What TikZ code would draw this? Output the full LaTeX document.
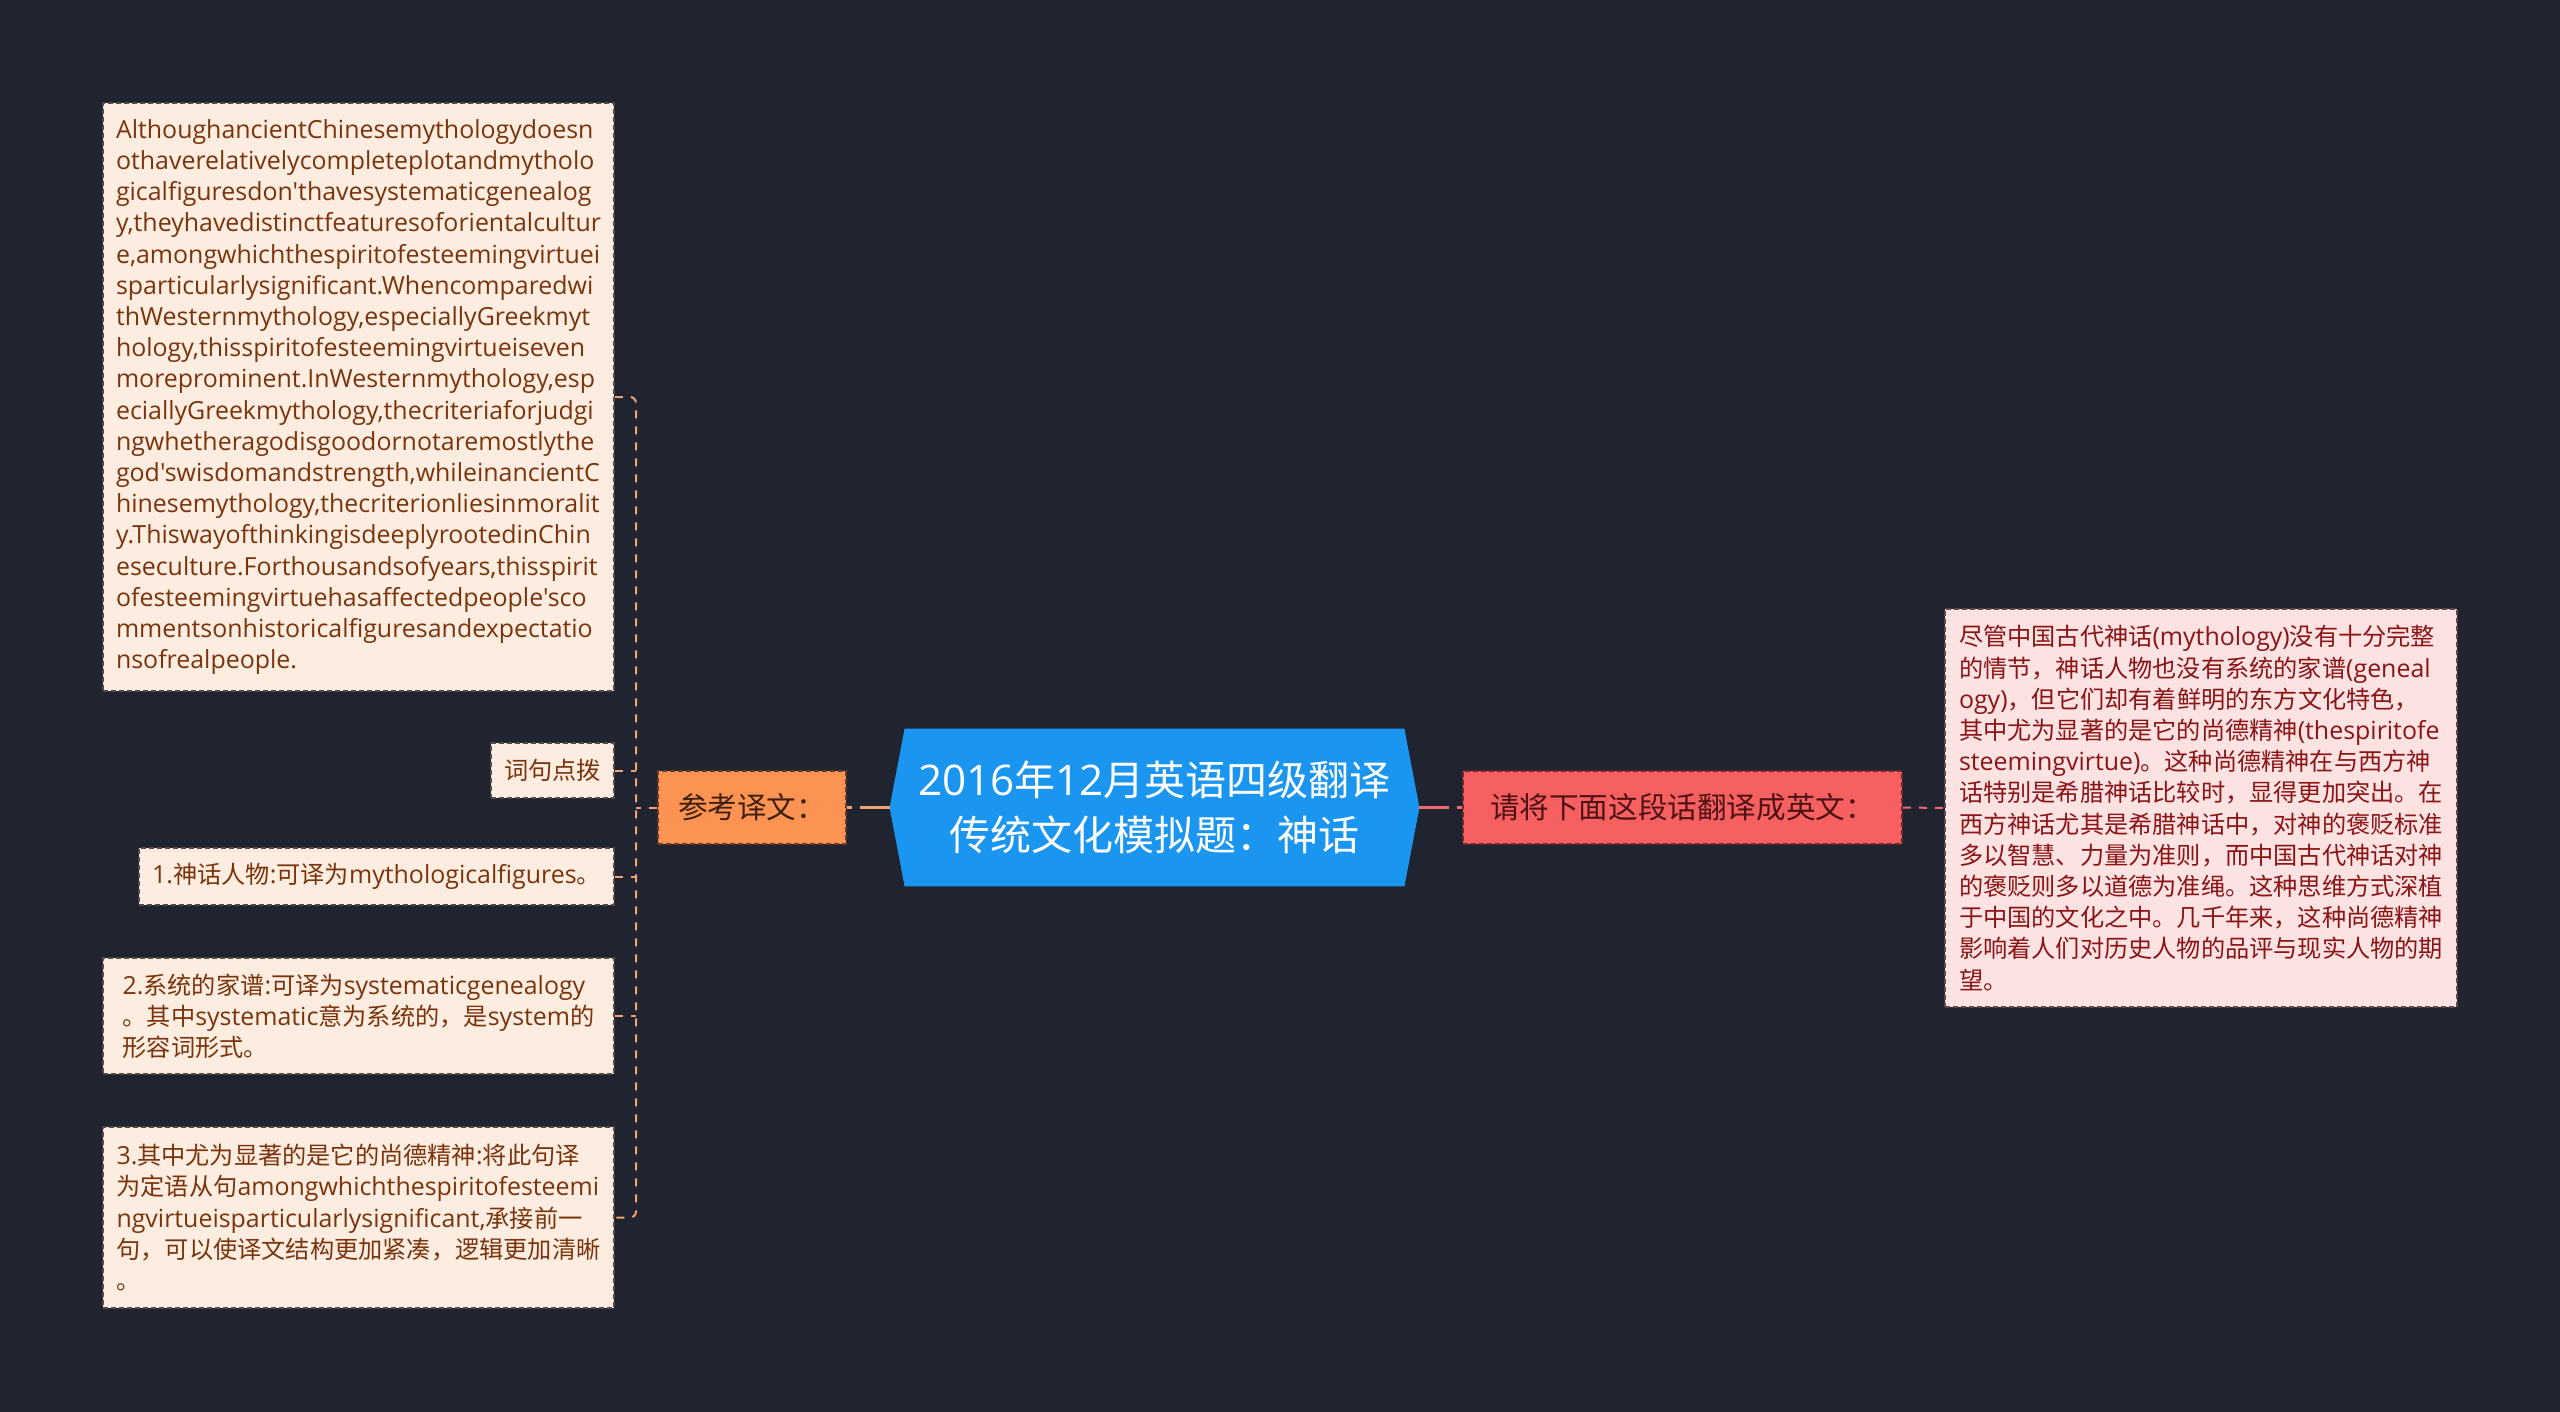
\documentclass[tikz,border=0pt]{standalone}
\usepackage{fontspec}
\setmainfont{Open Sans}[Scale=1.03,Ligatures=TeXOff]
\newfontfamily\cjkfont{Noto Sans CJK SC}
\XeTeXinterchartokenstate=1
\newcount\cjkc
\cjkc="4E00
\loop \XeTeXcharclass\cjkc=1 \ifnum\cjkc<"9FFF \advance\cjkc by 1 \repeat
\XeTeXcharclass"3001=3 \XeTeXcharclass"3002=3 \XeTeXcharclass"FF0C=3
\XeTeXcharclass"FF1A=3 \XeTeXcharclass"FF1B=3
\XeTeXinterchartoks 0 1 = {\cjkfont}
\XeTeXinterchartoks 0 2 = {\cjkfont}
\XeTeXinterchartoks 0 3 = {\cjkfont}
\XeTeXinterchartoks 4095 1 = {\cjkfont}
\XeTeXinterchartoks 4095 2 = {\cjkfont}
\XeTeXinterchartoks 4095 3 = {\cjkfont}
\XeTeXinterchartoks 1 0 = {\normalfont}
\XeTeXinterchartoks 2 0 = {\normalfont}
\XeTeXinterchartoks 3 0 = {\normalfont}
\XeTeXinterchartoks 1 4095 = {\normalfont}
\XeTeXinterchartoks 2 4095 = {\normalfont}
\XeTeXinterchartoks 3 4095 = {\normalfont}
\pgfdeclarelayer{bg}
\pgfsetlayers{bg,main}
\definecolor{bgc}{RGB}{32,35,48}
\definecolor{rootc}{RGB}{26,150,240}
\definecolor{refc}{RGB}{252,147,82}
\definecolor{reqc}{RGB}{246,96,96}
\definecolor{peach}{RGB}{253,236,224}
\definecolor{pinkc}{RGB}{253,226,226}
\definecolor{peachb}{RGB}{85,72,70}
\definecolor{pinkb}{RGB}{95,70,75}
\definecolor{refb}{RGB}{105,60,35}
\definecolor{reqb}{RGB}{110,40,45}
\definecolor{browntxt}{RGB}{122,52,12}
\definecolor{redtxt}{RGB}{138,20,22}
\definecolor{reftxt}{RGB}{62,32,12}
\definecolor{reqtxt}{RGB}{78,18,20}
\definecolor{lline}{RGB}{240,162,112}
\definecolor{rline}{RGB}{236,106,106}
\tikzset{
  boxbase/.style={inner sep=0pt, line width=0.8pt, dash pattern=on 2.5pt off 1.5pt},
  leafl/.style={boxbase, fill=peach, draw=peachb, text=browntxt, align=left,
    font=\fontsize{12.1pt}{15.6pt}\selectfont},
  leafr/.style={boxbase, fill=pinkc, draw=pinkb, text=redtxt, align=left,
    font=\fontsize{12.1pt}{15.6pt}\selectfont},
  refbox/.style={boxbase, fill=refc, draw=refb, text=reftxt,
    font=\fontsize{14.8pt}{18pt}\selectfont},
  reqbox/.style={boxbase, fill=reqc, draw=reqb, text=reqtxt,
    font=\fontsize{14.8pt}{18pt}\selectfont},
  rootnode/.style={inner sep=0pt, text=white, align=center,
    font=\fontsize{20.5pt}{27.75pt}\selectfont},
  mainl/.style={draw=lline, line width=1.5pt, dash pattern=on 15pt off 4pt},
  mainr/.style={draw=rline, line width=1.5pt, dash pattern=on 15pt off 4pt},
  subl/.style={draw=lline, line width=1pt, dash pattern=on 4pt off 4pt},
  subr/.style={draw=rline, line width=1pt, dash pattern=on 4pt off 4pt},
}
\begin{document}
\begin{tikzpicture}[x=0.5pt,y=-0.5pt]
\node[rootnode, minimum width=264.5pt, minimum height=78.5pt] (root) at (1154.5,807.5)
  {2016年12月英语四级翻译\\传统文化模拟题：神话};
\node[refbox, minimum width=94pt, minimum height=36.5pt] (ref) at (752,807.5) {参考译文：};
\node[reqbox, minimum width=219.5pt, minimum height=36.5pt] (req) at (1682.5,807.5) {请将下面这段话翻译成英文：};
\node[leafl, minimum width=255.5pt, minimum height=294pt] (big) at (358.5,397) {%
AlthoughancientChinesemythologydoesn\\
othaverelativelycompleteplotandmytholo\\
gicalfiguresdon'thavesystematicgenealog\\
y,theyhavedistinctfeaturesoforientalcultur\\
e,amongwhichthespiritofesteemingvirtuei\\
sparticularlysignificant.Whencomparedwi\\
thWesternmythology,especiallyGreekmyt\\
hology,thisspiritofesteemingvirtueiseven\\
moreprominent.InWesternmythology,esp\\
eciallyGreekmythology,thecriteriaforjudgi\\
ngwhetheragodisgoodornotaremostlythe\\
god'swisdomandstrength,whileinancientC\\
hinesemythology,thecriterionliesinmoralit\\
y.ThiswayofthinkingisdeeplyrootedinChin\\
eseculture.Forthousandsofyears,thisspirit\\
ofesteemingvirtuehasaffectedpeople'sco\\
mmentsonhistoricalfiguresandexpectatio\\
nsofrealpeople.};
\node[leafl, minimum width=61.5pt, minimum height=27.5pt] (tip) at (552.5,770.5) {词句点拨};
\node[leafl, minimum width=237.5pt, minimum height=28.5pt] (b1) at (376.5,876.5) {1.神话人物:可译为mythologicalfigures。};
\node[leafl, minimum width=255.5pt, minimum height=58pt] (b2) at (358.5,1016) {%
2.系统的家谱:可译为systematicgenealogy\\
。其中systematic意为系统的，是system的\\
形容词形式。};
\node[leafl, minimum width=255.5pt, minimum height=90.5pt] (b3) at (358.5,1217.5) {%
3.其中尤为显著的是它的尚德精神:将此句译\\
为定语从句amongwhichthespiritofesteemi\\
ngvirtueisparticularlysignificant,承接前一\\
句，可以使译文结构更加紧凑，逻辑更加清晰\\
。};
\node[leafr, minimum width=256pt, minimum height=199pt] (rt) at (2201,808) {%
尽管中国古代神话(mythology)没有十分完整\\
的情节，神话人物也没有系统的家谱(geneal\\
ogy)，但它们却有着鲜明的东方文化特色，\\
其中尤为显著的是它的尚德精神(thespiritofe\\
steemingvirtue)。这种尚德精神在与西方神\\
话特别是希腊神话比较时，显得更加突出。在\\
西方神话尤其是希腊神话中，对神的褒贬标准\\
多以智慧、力量为准则，而中国古代神话对神\\
的褒贬则多以道德为准绳。这种思维方式深植\\
于中国的文化之中。几千年来，这种尚德精神\\
影响着人们对历史人物的品评与现实人物的期\\
望。};
\coordinate (spine) at (636,807.5);
\begin{pgfonlayer}{bg}
\fill[bgc] (0,0) rectangle (2560,1412);
\fill[rootc] (root.west) -- ([xshift=7.5pt]root.north west) -- ([xshift=-7.5pt]root.north east)
  -- (root.east) -- ([xshift=-7.5pt]root.south east) -- ([xshift=7.5pt]root.south west) -- cycle;
\draw[mainl] (root.west) -- (ref.east);
\draw[mainr] (root.east) -- (req.west);
\draw[subr] (req.east) -- (rt.west);
\draw[subl] (ref.west) -- (spine);
\draw[subl, rounded corners=3pt] (big.east) -- (big.east -| spine) -- (b3.east -| spine) -- (b3.east);
\draw[subl] (tip.east) -- (tip.east -| spine);
\draw[subl] (b1.east) -- (b1.east -| spine);
\draw[subl] (b2.east) -- (b2.east -| spine);
\end{pgfonlayer}
\end{tikzpicture}
\end{document}
